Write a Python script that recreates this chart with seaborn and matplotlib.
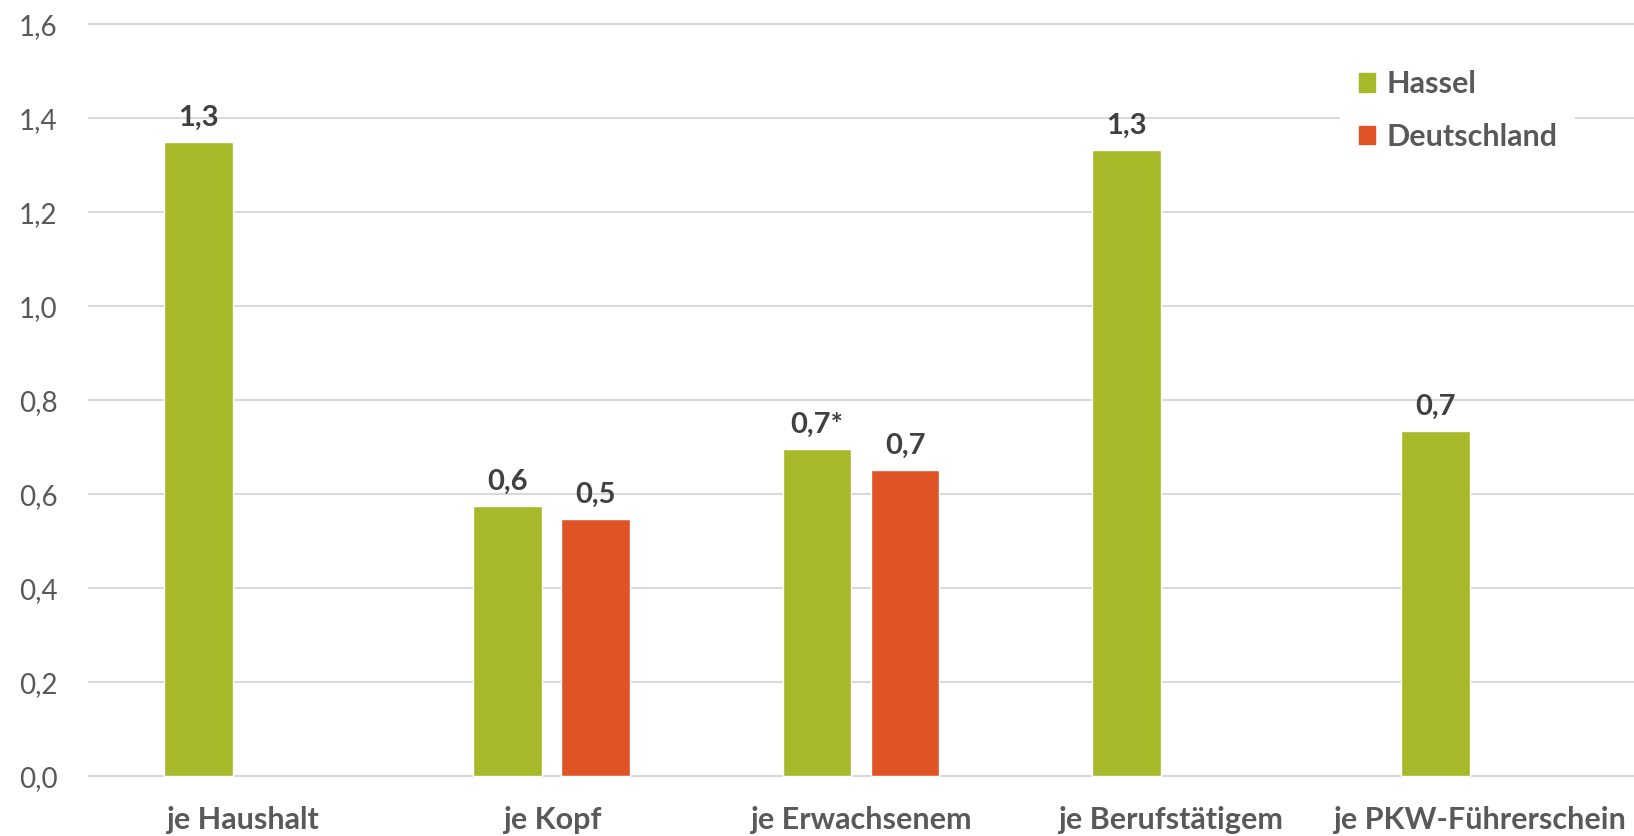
import seaborn as sns
import pandas as pd
import numpy as np
from matplotlib import pyplot as plt

categories = ['je Haushalt', 'je Kopf', 'je Erwachsenem', 'je Berufstätigem', 'je PKW-Führerschein']
hassel = [1.35, 0.575, 0.695, 1.333, 0.735]
deutschland = [np.nan, 0.547, 0.652, np.nan, np.nan]
hassel_labels = ['1,3', '0,6', '0,7*', '1,3', '0,7']
deutschland_labels = ['', '0,5', '0,7', '', '']
series = ['Hassel', 'Deutschland']
colors = ['#a7b828', '#e05326']
yticks = [0.0, 0.2, 0.4, 0.6, 0.8, 1.0, 1.2, 1.4, 1.6]

df = pd.DataFrame({
    'Kategorie': categories * 2,
    'Wert': hassel + deutschland,
    'Gebiet': ['Hassel'] * 5 + ['Deutschland'] * 5,
})

sns.set_style('white')
plt.rcParams['font.family'] = ['Lato', 'DejaVu Sans']

fig = plt.figure(figsize=(16.34, 8.36), dpi=100)
ax = fig.add_axes([88 / 1634, 57.6 / 836, 1 - 88 / 1634, 756.7 / 836])

sns.barplot(data=df, x='Kategorie', y='Wert', hue='Gebiet', hue_order=series,
            palette=colors, width=0.57, gap=0.22, order=categories, ax=ax,
            legend=False, saturation=1)

ax.set_ylim(-0.005, 1.605)
ax.set_xlim(-0.5, 4.5)
ax.set_yticks(yticks)
ax.set_yticklabels([f'{v:.1f}'.replace('.', ',') for v in yticks])
ax.yaxis.grid(True, color='#d9d9d9', linewidth=1.5)
ax.set_axisbelow(True)
for s in ax.spines.values():
    s.set_visible(False)
ax.set_xlabel('')
ax.set_ylabel('')
ax.tick_params(axis='y', length=0, labelsize=20, labelcolor='#595959', pad=22)
ax.tick_params(axis='x', length=0, labelsize=22, labelcolor='#595959', pad=20)
for t in ax.get_xticklabels():
    t.set_fontweight('bold')

lab_sets = [hassel_labels, deutschland_labels]
for cont, labs in zip(ax.containers, lab_sets):
    vals = [l for l in labs if l != ''] if len(cont) < len(labs) else labs
    ax.bar_label(cont, labels=vals, padding=8, fontsize=21, fontweight='bold',
                 color='#404040')

handles = [plt.Rectangle((0, 0), 1, 1, color=c) for c in colors]
leg = ax.legend(handles, series, loc='upper right', bbox_to_anchor=(0.972, 0.98),
                frameon=True, facecolor='white', edgecolor='none', framealpha=1,
                fontsize=22, handlelength=0.55, handleheight=0.55, handletextpad=0.35,
                labelspacing=0.8, borderpad=0.6)
for t in leg.get_texts():
    t.set_fontweight('bold')
    t.set_color('#595959')

plt.savefig('out.png', dpi=100)
